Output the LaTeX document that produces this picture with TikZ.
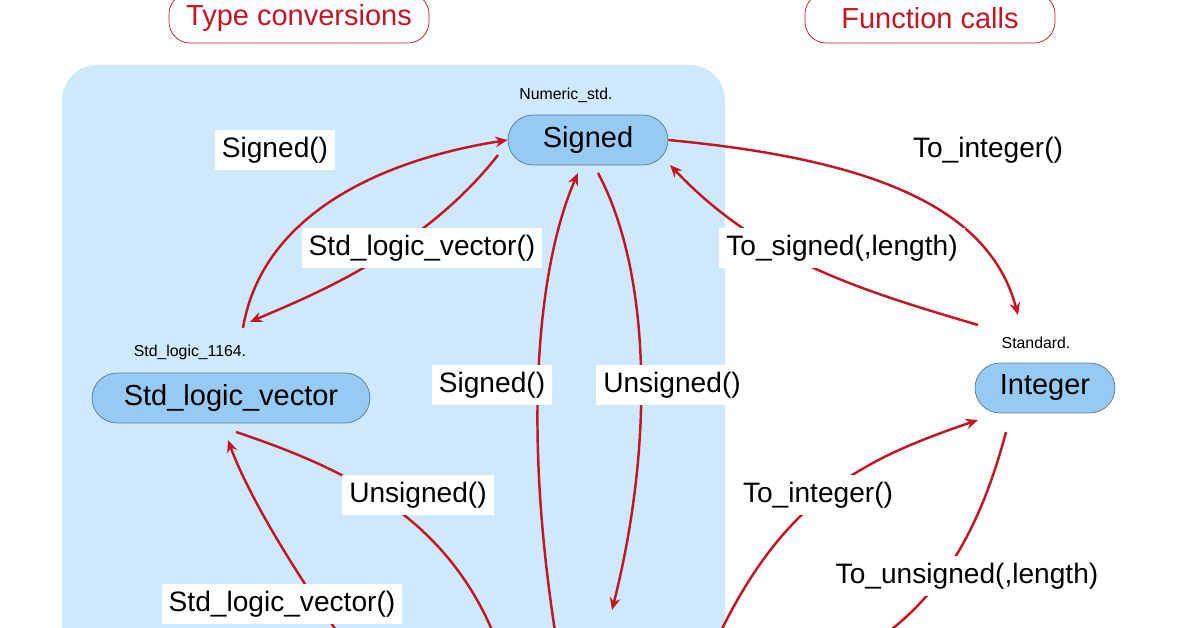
\documentclass[tikz,border=0pt]{standalone}
\usepackage{fontspec}
\setmainfont{Liberation Sans}
\usetikzlibrary{arrows.meta,shapes.misc}
\definecolor{panelblue}{RGB}{206,233,251}
\definecolor{nodeblue}{RGB}{150,202,243}
\definecolor{linered}{RGB}{196,22,34}
\tikzset{
  typenode/.style={rounded rectangle, draw=nodeblue!60!black, fill=nodeblue, inner sep=0pt, minimum height=1cm, font=\fontsize{16.5}{18}\selectfont},
  libtext/.style={font=\fontsize{9}{10}\selectfont},
  fname/.style={fill=white, inner sep=4pt, font=\fontsize{16}{18}\selectfont},
  header/.style={rounded corners=12pt, draw=linered, text=linered, minimum height=1cm, font=\fontsize{16.5}{18}\selectfont},
  conv/.style={draw=linered, line width=1.4pt, -{Stealth[length=7pt,width=6pt]}}
}
\begin{document}
\begin{tikzpicture}[x=0.02cm,y=-0.02cm]
    \useasboundingbox (0,0) rectangle (1196,628);
    \clip (0,0) rectangle (1196,628);

    % Background panel and headers
    \fill[panelblue, rounded corners=20pt] (62,65) rectangle (725,700);
    \node[header, minimum width=5.2cm] (hdrtype) at (299,18) {Type conversions};
    \node[header, minimum width=5cm] (hdrfunc) at (930,18) {Function calls};

    % Type nodes
    \node[typenode, minimum width=3.2cm] (signed) at (588,140) {Signed};
    \node[typenode, minimum width=5.56cm] (slv) at (231,398) {Std\_logic\_vector};
    \node[typenode, minimum width=2.8cm] (integer) at (1045,388) {Integer};
    \node[libtext] (signedlib) at (566,95) {Numeric\_std.};
    \node[libtext] (slvlib) at (190,352) {Std\_logic\_1164.};
    \node[libtext] (intlib) at (1036,343) {Standard.};

    % Free ends below the visible part
    \coordinate (bslvin) at (350,650);
    \coordinate (bslvout) at (500,650);
    \coordinate (bsigin) at (558,650);
    \coordinate (bsigout) at (612,610);
    \coordinate (bintin) at (712,650);
    \coordinate (bintout) at (862,650);

    % Connectors
    \draw[conv] (243,328) .. controls (262,215) and (380,160) .. (signed.west);
    \draw[conv] (498,155) .. controls (420,255) and (300,300) .. (250,322);
    \draw[conv] (bsigin) .. controls (520,420) and (540,260) .. (578,173);
    \draw[conv] (598,173) .. controls (650,270) and (655,440) .. (bsigout);
    \draw[conv] (236,432) .. controls (350,470) and (450,520) .. (bslvout);
    \draw[conv] (bslvin) .. controls (300,580) and (250,500) .. (228,440);
    \draw[conv] (signed.east) .. controls (880,160) and (990,210) .. (1018,315);
    \draw[conv] (978,325) .. controls (860,290) and (760,260) .. (670,165);
    \draw[conv] (bintin) .. controls (780,500) and (860,460) .. (978,420);
    \draw[conv] (1006,432) .. controls (980,530) and (940,600) .. (bintout);

    % Function labels
    \node[fname] (sigfromslv) at (275,150) {Signed()};
    \node[fname] (slvfromsig) at (422,248) {Std\_logic\_vector()};
    \node[fname] (sigfromuns) at (492,385) {Signed()};
    \node[fname] (unsfromsig) at (672,385) {Unsigned()};
    \node[fname] (unsfromslv) at (418,495) {Unsigned()};
    \node[fname] (slvfromuns) at (282,604) {Std\_logic\_vector()};
    \node[fname] (intfromsig) at (988,150) {To\_integer()};
    \node[fname] (sigfromint) at (842,248) {To\_signed(,length)};
    \node[fname] (intfromuns) at (818,495) {To\_integer()};
    \node[fname] (unsfromint) at (967,576) {To\_unsigned(,length)};
\end{tikzpicture}
\end{document}
